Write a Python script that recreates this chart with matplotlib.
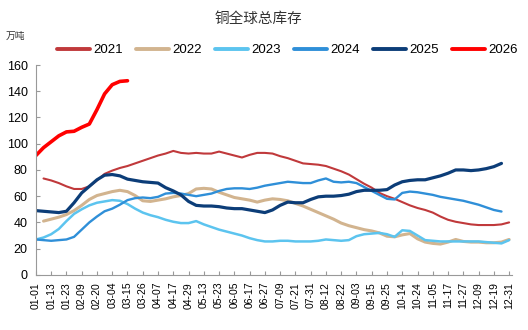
import numpy as np
import matplotlib
matplotlib.use("Agg")
import matplotlib.pyplot as plt

plt.rcParams['font.family'] = ['Liberation Sans', 'Noto Sans CJK SC', 'DejaVu Sans']

# x轴标签（类目轴，等间距）
tick_labels = ["01-01", "01-13", "01-23", "02-09", "02-20", "03-04", "03-15", "03-26",
               "04-07", "04-17", "04-29", "05-13", "05-23", "06-05", "06-17", "06-27",
               "07-09", "07-21", "07-31", "08-12", "08-22", "09-03", "09-15", "09-25",
               "10-14", "10-24", "11-05", "11-17", "11-27", "12-09", "12-19", "12-31"]

# 每半个标签间隔取一个点
step = 0.5

y2021 = [np.nan, 73.5, 72, 70, 67.5, 65.5, 65.5, 67.5, 72, 77, 79.5, 81.5, 83, 85, 87, 89,
         91, 92.5, 94.5, 93, 92.5, 93, 92.5, 92.5, 94, 92.5, 91, 89.5, 91.5, 93, 93, 92.5,
         90.5, 89, 87, 85, 84.5, 84, 83, 81, 79, 76.5, 73, 69.5, 66.5, 62.5, 60, 58,
         55.5, 53, 51, 49.5, 47.5, 44.5, 42, 40.5, 39.5, 38.5, 38, 38, 38, 38.5, 40]

y2022 = [np.nan, 41, 42.5, 44, 46, 49, 53, 57.5, 60.5, 62, 63.5, 64.5, 63.5, 60.5, 56.5, 56,
         57, 58, 59.5, 60.5, 62, 65.5, 66, 65.5, 63, 61, 59, 58, 57, 55.5, 57, 58,
         57.5, 56.5, 54.5, 52.5, 50, 47.5, 45, 42.5, 39.5, 37.5, 36, 34.5, 33.5, 32, 29.5, 29,
         30.5, 31.5, 27.5, 25, 24, 23.5, 25, 27, 25.5, 25, 25, 24.5, 24.5, 25, 27]

y2023 = [27, 28.5, 31, 35, 41, 46.5, 50, 53, 55, 56, 57, 56.5, 54, 50.5, 47.5, 45.5,
         44, 42, 40.5, 39.5, 39.5, 41, 38.5, 36.5, 34.5, 33, 31.5, 30, 28, 26.5, 25.5, 25.5,
         26, 26, 25.5, 25.5, 25.5, 26, 27, 26.5, 26, 26.5, 29.5, 31, 31.5, 32, 31, 29,
         34, 33.5, 30, 26.5, 26, 25.5, 25.5, 25.5, 25.5, 25.5, 25.5, 25, 24.5, 24, 26.5]

y2024 = [27, 26.5, 26, 26.5, 27, 29, 34.5, 40, 44.5, 48.5, 50.5, 53.5, 57, 58.5, 59, 58.5,
         59.5, 62, 62.5, 62, 61, 60, 61, 62, 64, 65.5, 66, 66, 65.5, 66.5, 68, 69,
         70, 71, 70.5, 70, 70, 72, 73.5, 71, 70.5, 71, 70, 67, 64, 61, 58, 57.5,
         62.5, 63.5, 63, 62, 61, 59.5, 58.5, 57.5, 56.5, 55, 53.5, 51.5, 49.5, 48.3, np.nan]

y2025 = [49, 48.5, 48, 47.5, 48.5, 55, 62.5, 67.5, 72.5, 76, 76.5, 75.5, 73, 72, 71, 70.5,
         70, 66.5, 64, 61, 56, 53, 52.5, 52.5, 52, 51, 50.5, 50.5, 49.5, 48.5, 47.5, 49.5,
         53, 55.5, 55, 55, 57.5, 59.5, 60, 60, 60.5, 61.5, 63.5, 64.5, 64.5, 64.5, 65, 68.5,
         71, 72, 72.5, 72.5, 74, 75.5, 77.5, 80, 80, 79.5, 80, 81, 82.5, 85, np.nan]

y2026 = [91, 97, 101.5, 106, 109, 109.5, 112.5, 115, 126, 138, 145, 147.5, 148]

series = [
    ("2021", y2021, "#c0393b", 1.5),
    ("2022", y2022, "#d2b48f", 2.2),
    ("2023", y2023, "#5cc4ef", 1.8),
    ("2024", y2024, "#2f8fd8", 1.7),
    ("2025", y2025, "#0c3d78", 2.3),
    ("2026", y2026, "#ff0000", 2.6),
]

fig = plt.figure(figsize=(5.28, 3.30), dpi=100)
ax = fig.add_axes([0.068, 0.167, 0.902, 0.636])

for name, vals, color, lw in series:
    x = np.arange(len(vals)) * step
    ax.plot(x, vals, color=color, lw=lw, label=name, solid_capstyle='round')

ax.set_xlim(0, 31.2)
ax.set_ylim(0, 160)
ax.set_yticks(range(0, 161, 20))
ax.set_xticks(range(len(tick_labels)))
ax.set_xticklabels(tick_labels, rotation=90, fontsize=7.5)
ax.tick_params(axis='y', labelsize=9, direction='in', length=3, color='#999999', pad=6)
ax.tick_params(axis='x', direction='in', length=3, color='#999999', pad=5)
for s in ['top', 'right']:
    ax.spines[s].set_visible(False)
for s in ['left', 'bottom']:
    ax.spines[s].set_color('#999999')
    ax.spines[s].set_linewidth(0.8)

fig.text(0.49, 0.942, "铜全球总库存", ha='center', va='center', fontsize=10.5,
         family=['Noto Sans CJK SC', 'DejaVu Sans'], color='#333333')
fig.text(0.01, 0.89, "万吨", ha='left', va='center', fontsize=7,
         family=['Noto Sans CJK SC', 'DejaVu Sans'], color='#333333')

leg = fig.legend(loc='center', bbox_to_anchor=(0.545, 0.848), ncol=6, frameon=False,
                 fontsize=9.5, handlelength=2.5, handletextpad=0.25, columnspacing=1.0)
for line in leg.get_lines():
    line.set_linewidth(2.8)

fig.savefig("out.png", dpi=100)
